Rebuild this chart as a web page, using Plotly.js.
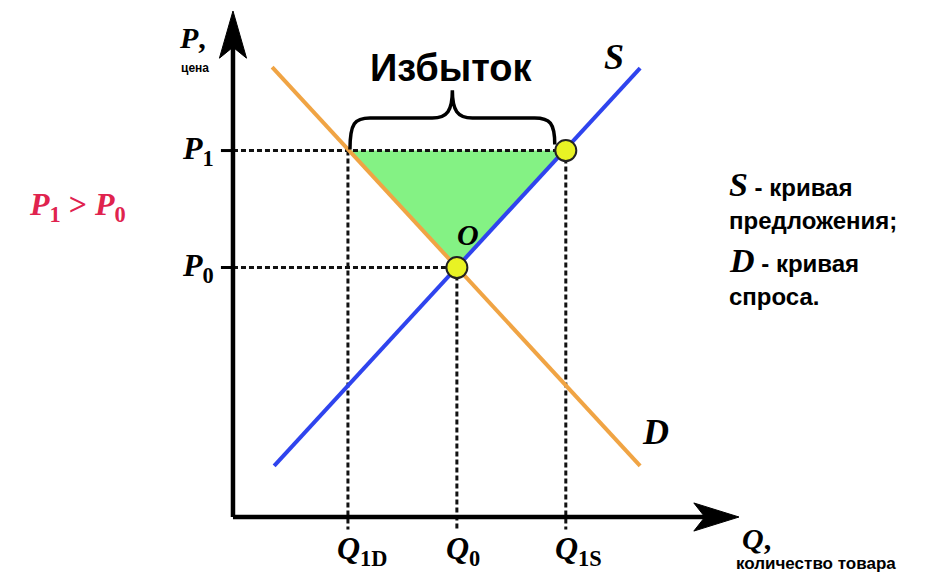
<!DOCTYPE html>
<html>
<head>
<meta charset="utf-8">
<script src="https://cdn.plot.ly/plotly-3.0.1.min.js"></script>
<style>
  html, body { margin: 0; padding: 0; background: #ffffff; }
  #chart { width: 938px; height: 577px; }
</style>
</head>
<body>
<div id="chart"></div>
<script>
// quantities and prices (axis units: 0..10)
const qLabels = ['1D', '0', '1S'];
const qValues = [2.29, 4.46, 6.63];       // Q1D, Q0, Q1S
const pLabels = ['1', '0'];
const pValues = [7.3, 4.97];              // P1, P0

// demand and supply lines, end points
const demandX = [0.78, 8.11];
const demandY = [8.96, 1.02];
const supplyX = [0.82, 8.11];
const supplyY = [1.02, 8.94];

const [q1d, q0, q1s] = qValues;
const [p1, p0] = pValues;

const serif = 'Liberation Serif, DejaVu Serif, serif';
const sans = 'Liberation Sans, Arial, sans-serif';

const dashLine = { color: '#111111', width: 3, dash: '5px,3px' };

const traces = [
  // surplus triangle
  {
    x: [q1d, q1s, q0, q1d], y: [p1, p1, p0, p1],
    type: 'scatter', mode: 'lines', fill: 'toself',
    fillcolor: '#84f284', line: { width: 0 }, hoverinfo: 'skip'
  },
  // guide lines
  { x: [0, q1s], y: [p1, p1], mode: 'lines', line: dashLine },
  { x: [0, q0], y: [p0, p0], mode: 'lines', line: dashLine },
  { x: [q1d, q1d], y: [p1, -0.25], mode: 'lines', line: dashLine },
  { x: [q0, q0], y: [p0, -0.25], mode: 'lines', line: dashLine },
  { x: [q1s, q1s], y: [p1, -0.25], mode: 'lines', line: dashLine },
  // D and S
  { x: demandX, y: demandY, mode: 'lines', line: { color: '#f0a444', width: 4 } },
  { x: supplyX, y: supplyY, mode: 'lines', line: { color: '#2f44ee', width: 4 } },
  // equilibrium points
  {
    x: [q0, q1s], y: [p0, p1], mode: 'markers',
    marker: { size: 21, color: '#e8f224', line: { color: '#222222', width: 2 } }
  }
];

// curly brace over the surplus
const bl = q1d + 0.04, br = q1s - 0.22, bm = (bl + br) / 2;
const by0 = p1 + 0.02, by1 = p1 + 0.65, by2 = p1 + 1.2;
const brace = `M ${bl},${by0} C ${bl},${by1 - 0.1} ${bl + 0.1},${by1} ${bl + 0.4},${by1} ` +
  `L ${bm - 0.4},${by1} C ${bm - 0.1},${by1} ${bm},${by1 + 0.15} ${bm},${by2} ` +
  `C ${bm},${by1 + 0.15} ${bm + 0.1},${by1} ${bm + 0.4},${by1} ` +
  `L ${br - 0.4},${by1} C ${br - 0.1},${by1} ${br},${by1 - 0.1} ${br},${by0 + 0.1}`;

const axisLine = { color: '#000000', width: 4.5 };
const shapes = [
  { type: 'line', x0: 0, y0: 0, x1: 0, y1: 9.4, line: axisLine },
  { type: 'line', x0: 0, y0: 0, x1: 9.4, y1: 0, line: axisLine },
  { type: 'path', path: 'M 0,10.08 L -0.27,9.14 L 0,9.36 L 0.27,9.14 Z',
    fillcolor: '#000000', line: { color: '#000000', width: 1 } },
  { type: 'path', path: 'M 10.08,0 L 9.18,0.28 L 9.4,0 L 9.18,-0.28 Z',
    fillcolor: '#000000', line: { color: '#000000', width: 1 } },
  { type: 'path', path: brace, line: { color: '#000000', width: 3.5 } }
];
pValues.forEach(p => shapes.push({ type: 'line', x0: -0.24, y0: p, x1: 0, y1: p, line: { color: '#000', width: 3 } }));

const ann = (x, y, text, size, font, extra) => Object.assign({
  x, y, xref: 'x', yref: 'y', text, showarrow: false,
  font: { family: font, size, color: '#000000' }
}, extra || {});

const noteS = '<span style="font-family:Liberation Serif;font-size:34px"><b><i>S</i></b></span><b> - кривая</b>';
const noteD = '<span style="font-family:Liberation Serif;font-size:34px"><b><i>D</i></b></span><b> - кривая</b>';

const annotations = [
  ann(4.36, 8.95, '<b>Избыток</b>', 38, sans),
  ann(7.58, 9.16, '<b><i>S</i></b>', 36, serif),
  ann(8.42, 1.7, '<b><i>D</i></b>', 36, serif),
  ann(4.68, 5.62, '<b><i>O</i></b>', 30, serif),
  ann(-0.8, 9.55, '<b><i>P</i>,</b>', 30, serif),
  ann(-0.75, 8.95, '<b>цена</b>', 12, sans),
  ann(10.1, -0.42, '<b><i>Q</i>,</b>', 30, serif, { xanchor: 'left' }),
  ann(9.98, -0.93, '<b>количество товара</b>', 17, sans, { xanchor: 'left' }),
  ann(-3.1, 6.18, '<b><i>P</i><sub>1</sub> &gt; <i>P</i><sub>0</sub></b>', 32, serif,
    { font: { family: serif, size: 32, color: '#e0234e' } }),
  ann(9.84, 6.62, noteS, 24, sans, { xanchor: 'left' }),
  ann(9.84, 5.9, '<b>предложения;</b>', 24, sans, { xanchor: 'left' }),
  ann(9.84, 5.1, noteD, 24, sans, { xanchor: 'left' }),
  ann(9.84, 4.4, '<b>спроса.</b>', 24, sans, { xanchor: 'left' })
];

pValues.forEach((p, i) => annotations.push(
  ann(-0.34, p, `<b><i>P</i><sub>${pLabels[i]}</sub></b>`, 32, serif, { xanchor: 'right' })));
qValues.forEach((q, i) => annotations.push(
  ann(q - 0.26, -0.66, `<b><i>Q</i><sub>${qLabels[i]}</sub></b>`, 32, serif, { xanchor: 'left' })));

const layout = {
  width: 938, height: 577,
  margin: { l: 0, r: 0, t: 0, b: 0 },
  paper_bgcolor: '#ffffff', plot_bgcolor: '#ffffff',
  showlegend: false,
  xaxis: { range: [-4.641, 14.044], visible: false, fixedrange: true },
  yaxis: { range: [-1.195, 10.299], visible: false, fixedrange: true },
  shapes, annotations
};

Plotly.newPlot('chart', traces, layout, { staticPlot: true });
</script>
</body>
</html>
